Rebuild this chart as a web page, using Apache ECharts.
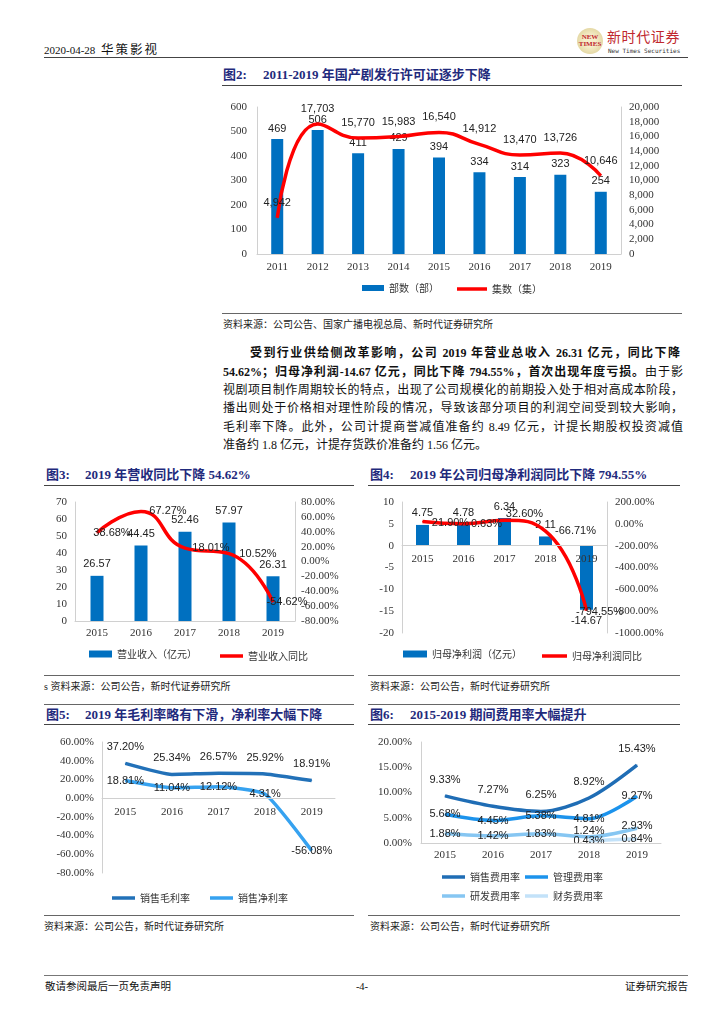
<!DOCTYPE html>
<html><head><meta charset="utf-8">
<script src="https://cdn.jsdelivr.net/npm/echarts@6/dist/echarts.min.js"></script>
<style>
body{margin:0;width:724px;height:1024px;background:#fff;position:relative;overflow:hidden;font-family:"Liberation Serif","Noto Sans CJK SC",serif;color:#111}
.abs{position:absolute;white-space:nowrap}
.hl{position:absolute;height:0;border-top:1.5px solid #444}
.tl{position:absolute;height:0;border-top:1px solid #666}
.title{position:absolute;font-weight:bold;color:#1f2a7c;font-size:13px;white-space:nowrap;line-height:16px}
.src{position:absolute;font-size:10px;color:#222;white-space:nowrap;line-height:12px}
.chart{position:absolute}
.pl{position:absolute;left:223px;width:460px;font-size:12px;line-height:18px;height:18px;text-align:justify;text-align-last:justify;overflow:visible}
</style>
</head><body>
<!-- header -->
<div class="abs" style="left:44px;top:43px;font-size:11px;line-height:14px">2020-04-28 <span style="font-size:12.5px;letter-spacing:2px;margin-left:3px">华策影视</span></div>
<div class="hl" style="left:44px;top:57px;width:644px"></div>
<div class="abs" style="left:577px;top:28px;width:26px;height:26px;border-radius:50%;background:radial-gradient(circle,#f6efcb 30%,#d8c88a)"></div>
<div class="abs" style="left:575px;top:34px;width:30px;font-size:7px;line-height:7px;color:#c0272d;font-weight:bold;text-align:center;font-family:'Liberation Serif'">NEW<br>TIMES</div>
<div class="abs" style="left:607px;top:29px;font-size:14px;line-height:17px;color:#c0272d;letter-spacing:0.6px">新时代证券</div>
<div class="abs" style="left:608px;top:47px;font-size:6px;line-height:7px;color:#333;font-family:'DejaVu Sans Mono'">New Times Securities</div>

<!-- chart 2 -->
<div class="title" style="left:223px;top:67px">图2:</div>
<div class="title" style="left:263px;top:67px">2011-2019 年国产剧发行许可证逐步下降</div>
<div class="hl" style="left:222px;top:85px;width:460px"></div>
<div id="c2" class="chart" style="left:222px;top:90px;width:460px;height:215px"></div>
<div class="tl" style="left:222px;top:313px;width:460px"></div>
<div class="src" style="left:223px;top:319px">资料来源：公司公告、国家广播电视总局、新时代证券研究所</div>

<!-- paragraph -->
<div class="pl" style="left:250px;width:430px;top:344px;font-weight:bold">受到行业供给侧改革影响，公司 2019 年营业总收入 26.31 亿元，同比下降</div>
<div class="pl" style="top:363px"><b>54.62%；归母净利润-14.67 亿元，同比下降 794.55%，首次出现年度亏损。</b>由于影</div>
<div class="pl" style="top:381px">视剧项目制作周期较长的特点，出现了公司规模化的前期投入处于相对高成本阶段，</div>
<div class="pl" style="top:399px">播出则处于价格相对理性阶段的情况，导致该部分项目的利润空间受到较大影响，</div>
<div class="pl" style="top:418px">毛利率下降。此外，公司计提商誉减值准备约 8.49 亿元，计提长期股权投资减值</div>
<div class="pl" style="top:436px;text-align:left;text-align-last:left">准备约 1.8 亿元，计提存货跌价准备约 1.56 亿元。</div>

<!-- chart 3 -->
<div class="title" style="left:46px;top:467px">图3:</div>
<div class="title" style="left:85px;top:467px">2019 年营收同比下降 54.62%</div>
<div class="hl" style="left:44px;top:485px;width:310px"></div>
<div id="c3" class="chart" style="left:44px;top:490px;width:310px;height:185px"></div>
<div class="tl" style="left:44px;top:675px;width:310px"></div>
<div class="src" style="left:44px;top:681px">s 资料来源：公司公告，新时代证券研究所</div>

<!-- chart 4 -->
<div class="title" style="left:370px;top:467px">图4:</div>
<div class="title" style="left:410px;top:467px">2019 年公司归母净利润同比下降 794.55%</div>
<div class="hl" style="left:368px;top:485px;width:312px"></div>
<div id="c4" class="chart" style="left:368px;top:490px;width:312px;height:185px"></div>
<div class="tl" style="left:368px;top:675px;width:312px"></div>
<div class="src" style="left:370px;top:681px">资料来源：公司公告，新时代证券研究所</div>

<!-- chart 5 -->
<div class="tl" style="left:44px;top:704px;width:310px"></div>
<div class="title" style="left:46px;top:707px">图5:</div>
<div class="title" style="left:85px;top:707px">2019 年毛利率略有下滑，净利率大幅下降</div>
<div class="hl" style="left:44px;top:724px;width:310px"></div>
<div id="c5" class="chart" style="left:44px;top:728px;width:310px;height:187px"></div>
<div class="tl" style="left:44px;top:915px;width:310px"></div>
<div class="src" style="left:44px;top:921px">资料来源：公司公告，新时代证券研究所</div>

<!-- chart 6 -->
<div class="tl" style="left:368px;top:704px;width:312px"></div>
<div class="title" style="left:370px;top:707px">图6:</div>
<div class="title" style="left:410px;top:707px">2015-2019 期间费用率大幅提升</div>
<div class="hl" style="left:368px;top:724px;width:312px"></div>
<div id="c6" class="chart" style="left:368px;top:728px;width:312px;height:187px"></div>
<div class="tl" style="left:368px;top:915px;width:312px"></div>
<div class="src" style="left:370px;top:921px">资料来源：公司公告，新时代证券研究所</div>

<!-- footer -->
<div class="hl" style="left:44px;top:975px;width:644px;border-top:1.5px solid #777"></div>
<div class="abs" style="left:45px;top:980px;font-size:10.5px;line-height:13px">敬请参阅最后一页免责声明</div>
<div class="abs" style="left:352px;top:980px;width:20px;text-align:center;font-size:10.5px;line-height:13px">-4-</div>
<div class="abs" style="left:600px;top:980px;width:88px;text-align:right;font-size:10.5px;line-height:13px">证券研究报告</div>

<script>
// ---------- data ----------
const years2 = ['2011','2012','2013','2014','2015','2016','2017','2018','2019'];
const dramaCount = [469,506,411,429,394,334,314,323,254];          // 部数（部）
const episodeCount = [4942,17703,15770,15983,16540,14912,13470,13726,10646]; // 集数（集）
const years5 = ['2015','2016','2017','2018','2019'];
const revenue = [26.57,44.45,52.46,57.97,26.31];       // 营业收入（亿元）
const revenueYoY = [38.68,67.27,18.01,10.52,-54.62];   // 营业收入同比 %
const netProfit = [4.75,4.78,6.34,2.11,-14.67];        // 归母净利润（亿元）
const netProfitYoY = [21.90,0.63,32.60,-66.71,-794.55];// 归母净利润同比 %
const grossMargin = [37.20,25.34,26.57,25.92,18.91];   // 销售毛利率 %
const netMargin = [18.81,11.04,12.12,4.31,-56.08];     // 销售净利率 %
const sellingRate = [9.33,7.27,6.25,8.92,15.43];       // 销售费用率 %
const adminRate = [5.68,4.45,5.38,4.81,9.27];          // 管理费用率 %
const rdRate = [1.88,1.42,1.83,1.24,2.93];             // 研发费用率 %
const financeRate = [null,null,null,0.43,0.84];        // 财务费用率 %

// ---------- styles ----------
const SERIF = 'Liberation Serif', SANS = 'Liberation Sans', CJK = 'Noto Sans CJK SC';
const GRAY = '#d0d0d0', BLUE = '#0070c0', RED = '#ff0000';
const axLbl = (fs, extra) => Object.assign({fontFamily: SERIF, fontSize: fs, color: '#333'}, extra || {});
const dLbl = (extra) => Object.assign({show: true, fontFamily: SANS, fontSize: 11, color: '#222'}, extra || {});
const legTxt = {fontFamily: CJK, fontSize: 10, color: '#333'};
const thousands = v => String(v).replace(/\B(?=(\d{3})+(?!\d))/g, ',');
const pct = v => v.toFixed(2) + '%';
function leg(name, left, top, w, h) {
  return {data: [name], left: left, top: top, icon: 'rect', itemWidth: w, itemHeight: h, padding: 0, textStyle: legTxt, selectedMode: false};
}
// category axis; zeroShift moves the axis from the plot bottom up to the value-axis zero
function catAxis(data, margin, zeroShift) {
  return {type: 'category', data: data, axisTick: {show: false}, offset: -(zeroShift || 0), z: 5,
    axisLine: {onZero: false, lineStyle: {color: GRAY}},
    axisLabel: axLbl(11, {margin: margin})};
}
function valAxis(min, max, interval, margin, fmt, showLine) {
  return {type: 'value', min: min, max: max, interval: interval, splitLine: {show: false},
    axisLine: {show: showLine, onZero: false, lineStyle: {color: GRAY}}, axisTick: {show: false},
    axisLabel: axLbl(11, {margin: margin, formatter: fmt})};
}
// pixel distance from plot bottom to value 0
const zeroFromBottom = (plotH, min, max) => plotH * (0 - min) / (max - min);

// ---------- chart 2 ----------
echarts.init(document.getElementById('c2')).setOption({
  animation: false,
  grid: {left: 35, right: 61, top: 17, bottom: 51},
  xAxis: catAxis(years2, 8),
  yAxis: [valAxis(0, 600, 100, 10, null, true), valAxis(0, 20000, 2000, 8, thousands, true)],
  legend: [leg('部数（部）', 140, 193, 22, 6), leg('集数（集）', 235, 194, 30, 3.5)],
  series: [
    {name: '部数（部）', type: 'bar', data: dramaCount, barWidth: 12, itemStyle: {color: BLUE},
     label: dLbl({position: 'top', distance: 5})},
    {name: '集数（集）', type: 'line', yAxisIndex: 1, data: episodeCount, smooth: 0.5, symbol: 'circle', symbolSize: 1,
     lineStyle: {color: RED, width: 3.5}, itemStyle: {color: RED},
     label: dLbl({position: 'top', distance: 9, formatter: p => thousands(p.value)})}
  ]
});

// ---------- chart 3 ----------
const c3Dx = [15, 27, 26, 29, 14];
echarts.init(document.getElementById('c3')).setOption({
  animation: false,
  grid: {left: 31, right: 59, top: 12, bottom: 54},
  xAxis: catAxis(years5, 7),
  yAxis: [valAxis(0, 70, 10, 8, null, true), valAxis(-80, 80, 20, 6, pct, true)],
  legend: [leg('营业收入（亿元）', 45, 159, 23, 7), leg('营业收入同比', 176, 161, 23, 3.5)],
  series: [
    {name: '营业收入（亿元）', type: 'bar', data: revenue, barWidth: 13, itemStyle: {color: BLUE},
     label: dLbl({position: 'top', distance: 6})},
    {name: '营业收入同比', type: 'line', yAxisIndex: 1, smooth: 0.5, symbol: 'circle', symbolSize: 1,
     data: revenueYoY.map((v, i) => ({value: v, label: {offset: [c3Dx[i], 0]}})),
     lineStyle: {color: RED, width: 3.5}, itemStyle: {color: RED},
     label: dLbl({position: 'inside', formatter: p => pct(p.value)})}
  ]
});

// ---------- chart 4 ----------
const c4Off = [[28, 2], [23, 0], [20, -6], [30, 0], [13, 1]];
const c4Grid = {left: 34, right: 73, top: 12, bottom: 42};
echarts.init(document.getElementById('c4')).setOption({
  animation: false,
  grid: c4Grid,
  xAxis: catAxis(years5, 8, zeroFromBottom(185 - c4Grid.top - c4Grid.bottom, -20, 10)),
  yAxis: [valAxis(-20, 10, 5, 8, null, true), valAxis(-1000, 200, 200, 8, pct, true)],
  legend: [leg('归母净利润（亿元）', 35, 159, 24, 7), leg('归母净利润同比', 174, 161, 25, 3.5)],
  series: [
    {name: '归母净利润（亿元）', type: 'bar', barWidth: 13, itemStyle: {color: BLUE},
     data: netProfit.map(v => ({value: v, label: {position: v < 0 ? 'bottom' : 'top'}})),
     label: dLbl({distance: 6})},
    {name: '归母净利润同比', type: 'line', yAxisIndex: 1, smooth: 0.5, symbol: 'circle', symbolSize: 1,
     data: netProfitYoY.map((v, i) => ({value: v, label: {offset: c4Off[i]}})),
     lineStyle: {color: RED, width: 3.5}, itemStyle: {color: RED},
     label: dLbl({position: 'inside', formatter: p => pct(p.value)})}
  ]
});

// ---------- chart 5 ----------
const C5A = '#2271b8', C5B = '#36a2f0';
const c5Grid = {left: 58, right: 19, top: 14, bottom: 42};
echarts.init(document.getElementById('c5')).setOption({
  animation: false,
  grid: c5Grid,
  xAxis: catAxis(years5, 8, zeroFromBottom(187 - c5Grid.top - c5Grid.bottom, -80, 60)),
  yAxis: valAxis(-80, 60, 20, 8, pct, true),
  legend: [leg('销售毛利率', 68, 165, 23, 3.5), leg('销售净利率', 166, 165, 23, 3.5)],
  series: [
    {name: '销售毛利率', type: 'line', data: grossMargin, smooth: 0.15, symbol: 'circle', symbolSize: 1,
     lineStyle: {color: C5A, width: 3.5}, itemStyle: {color: C5A},
     label: dLbl({position: 'top', distance: 10, formatter: p => pct(p.value)})},
    {name: '销售净利率', type: 'line', data: netMargin, smooth: 0.15, symbol: 'circle', symbolSize: 1,
     lineStyle: {color: C5B, width: 3.5}, itemStyle: {color: C5B},
     label: dLbl({position: 'inside', formatter: p => pct(p.value)})}
  ]
});

// ---------- chart 6 ----------
const C6 = ['#1f6db5', '#1c93ec', '#86c6f2', '#c3e2f9'];
const c6RdDy = [0, 0, 0, -6, -2];
function c6Line(name, data, color, pos, dy) {
  return {name: name, type: 'line', smooth: 0.3, symbol: 'circle', symbolSize: 1,
    data: data.map((v, i) => ({value: v, label: {offset: [0, dy ? dy[i] : 0]}})),
    lineStyle: {color: color, width: 3.5}, itemStyle: {color: color},
    label: dLbl({position: pos, distance: 10, formatter: p => pct(p.value)})};
}
echarts.init(document.getElementById('c6')).setOption({
  animation: false,
  grid: {left: 53, right: 19, top: 14, bottom: 72},
  xAxis: catAxis(years5, 7),
  yAxis: valAxis(0, 20, 5, 9, pct, true),
  legend: [leg('销售费用率', 74, 144, 23, 3.5), leg('管理费用率', 157, 144, 23, 3.5),
           leg('研发费用率', 74, 163, 23, 3.5), leg('财务费用率', 157, 163, 23, 3.5)],
  series: [
    c6Line('销售费用率', sellingRate, C6[0], 'top'),
    c6Line('管理费用率', adminRate, C6[1], 'inside'),
    c6Line('研发费用率', rdRate, C6[2], 'inside', c6RdDy),
    c6Line('财务费用率', financeRate, C6[3], 'inside')
  ]
});
</script>
</body></html>
